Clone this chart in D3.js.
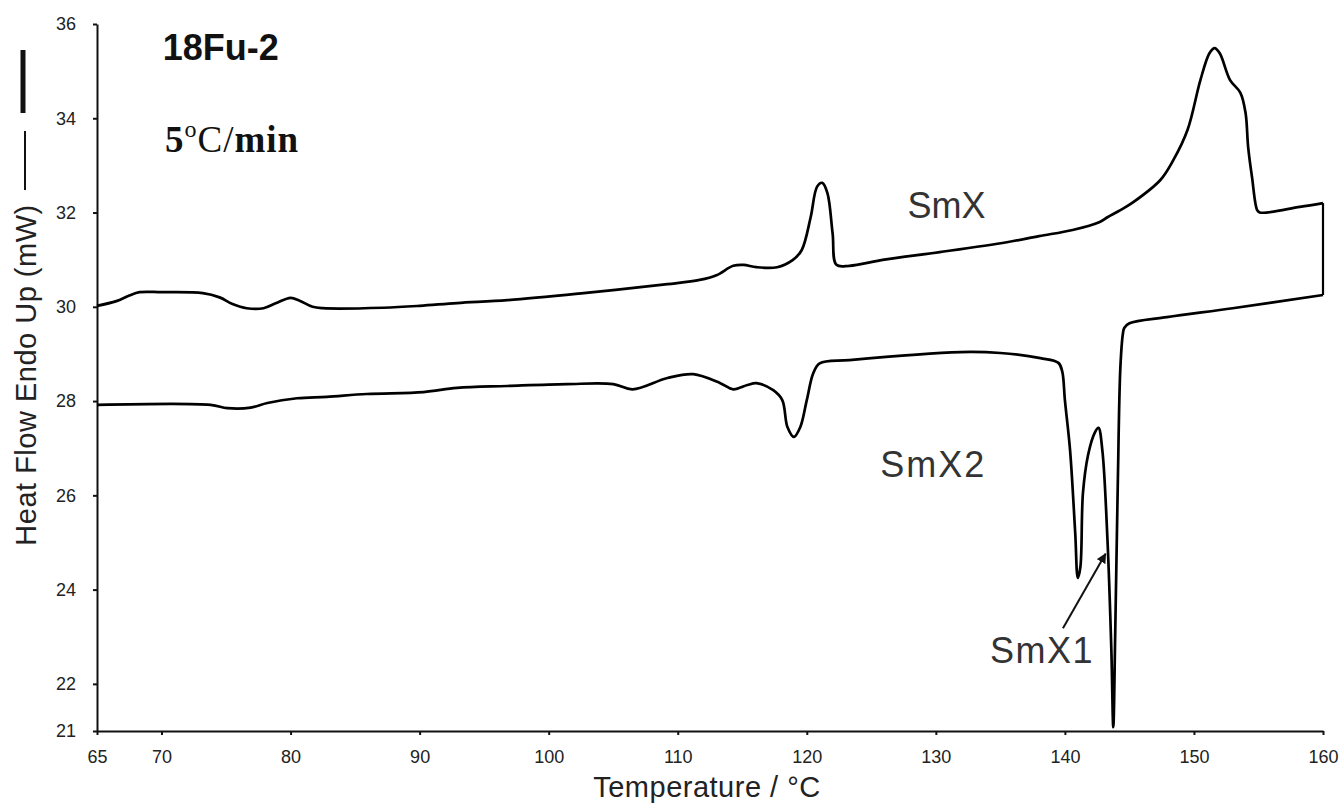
<!DOCTYPE html>
<html>
<head>
<meta charset="utf-8">
<script src="https://cdnjs.cloudflare.com/ajax/libs/d3/7.8.5/d3.min.js"></script>
<style>
    body { margin: 0; background: #fff; }
    svg text { font-family: "Liberation Sans", Arial, sans-serif; }
</style>
</head>
<body>
<div id="dsc_chart"></div>
<script>
// heating run (65 -> 160 C)
var heatT = [65.0, 66.5, 67.5, 68.3, 70.0, 73.2, 74.5, 75.5, 76.6, 77.9, 78.9, 80.0, 80.7, 81.7, 82.5,
    87.2, 90.0, 92.9, 96.8, 102.7, 109.2, 111.7, 113.0, 114.3, 115.1, 116.1, 117.7, 118.9, 119.6,
    120.3, 120.8, 121.2, 121.6, 122.0, 122.3, 123.3, 126.0, 130.3, 135.5, 138.0, 140.6, 142.7, 143.3,
    144.3, 145.3, 147.4, 148.4, 149.5, 150.5, 151.2, 151.6, 152.0, 152.8, 153.6, 154.0, 154.2, 154.5,
    154.9, 155.1, 158.2, 160.0];
var heatY = [30.02, 30.12, 30.24, 30.31, 30.31, 30.29, 30.20, 30.06, 29.97, 29.97, 30.08, 30.19, 30.13, 30.00, 29.97,
    29.98, 30.02, 30.08, 30.14, 30.29, 30.48, 30.57, 30.67, 30.87, 30.89, 30.84, 30.84, 30.99, 31.20,
    31.90, 32.55, 32.63, 32.41, 31.56, 30.89, 30.87, 31.00, 31.16, 31.37, 31.50, 31.63, 31.80, 31.90,
    32.05, 32.22, 32.69, 33.11, 33.75, 34.81, 35.38, 35.49, 35.38, 34.81, 34.54, 34.11, 33.39, 32.75,
    32.05, 32.00, 32.12, 32.20];

// cooling run (160 -> 65 C)
var coolT = [160.0, 153.0, 147.9, 145.0, 144.6, 144.5, 144.3, 144.1, 143.9, 143.75, 143.6, 143.3, 142.9,
    142.6, 142.3, 141.8, 141.4, 141.2, 141.0, 140.8, 140.4, 140.0, 139.8, 139.5, 138.1, 135.0, 131.9,
    123.3, 121.0, 120.5, 120.0, 119.5, 119.0, 118.5, 118.1, 117.4, 116.1, 115.4, 114.3, 113.3, 111.2,
    109.2, 106.5, 105.0, 101.4, 96.8, 92.9, 90.3, 85.9, 82.8, 80.5, 78.2, 76.9, 75.1, 73.8, 65.0];
var coolY = [30.25, 29.97, 29.78, 29.65, 29.55, 29.44, 28.72, 26.26, 23.08, 21.08, 22.72, 25.05, 26.96,
    27.43, 27.32, 26.86, 26.05, 24.48, 24.25, 25.20, 26.96, 28.02, 28.62, 28.81, 28.91, 29.02, 29.04,
    28.87, 28.80, 28.59, 28.02, 27.45, 27.24, 27.45, 28.02, 28.23, 28.38, 28.34, 28.25, 28.38, 28.57,
    28.49, 28.25, 28.36, 28.36, 28.32, 28.28, 28.19, 28.15, 28.09, 28.06, 27.96, 27.86, 27.85, 27.92, 27.92];

var xTicks = [65, 70, 80, 90, 100, 110, 120, 130, 140, 150, 160];
var yTicks = [21, 22, 24, 26, 28, 30, 32, 34, 36];

(function () {

    var width = 1341,
        height = 806;

    var x = d3.scaleLinear()
        .domain([65, 160])
        .range([97, 1323]);

    var y = d3.scaleLinear()
        .domain([21, 36])
        .range([731, 24]);

    var svg = d3.select("#dsc_chart").append("svg")
        .attr("width", width)
        .attr("height", height);

    /* axes */
    var xAxis = svg.append("g")
        .attr("transform", "translate(0," + y(21) + ")")
        .call(d3.axisBottom(x).tickValues(xTicks).tickSize(4).tickSizeOuter(0).tickPadding(15));

    var yAxis = svg.append("g")
        .attr("transform", "translate(" + x(65) + ",0)")
        .call(d3.axisLeft(y).tickValues(yTicks).tickSize(4).tickSizeOuter(0).tickPadding(17));

    [xAxis, yAxis].forEach(function (g) {
        g.select(".domain").attr("stroke", "#111").attr("stroke-width", 2);
        g.selectAll(".tick line").attr("stroke", "#111").attr("stroke-width", 2);
        g.selectAll(".tick text")
            .attr("fill", "#222")
            .style("font-size", "18px");
    });

    /* the thermogram: heating, isothermal jump at 160 C, then cooling */
    var heat = heatT.map(function (t, i) { return [t, heatY[i]]; });
    var cool = coolT.map(function (t, i) { return [t, coolY[i]]; });

    var line = d3.line()
        .curve(d3.curveCatmullRom.alpha(0.5))
        .x(function (d) { return x(d[0]); })
        .y(function (d) { return y(d[1]); });

    var joint = d3.line()
        .x(function (d) { return x(d[0]); })
        .y(function (d) { return y(d[1]); });

    svg.selectAll(".trace")
        .data([heat, cool])
        .enter().append("path")
        .attr("class", "trace")
        .attr("d", line)
        .attr("fill", "none")
        .attr("stroke", "#000")
        .attr("stroke-width", 2.7)
        .attr("stroke-linejoin", "round");

    svg.append("path")
        .datum([heat[heat.length - 1], cool[0]])
        .attr("d", joint)
        .attr("fill", "none")
        .attr("stroke", "#000")
        .attr("stroke-width", 2.2);

    /* axis titles */
    svg.append("text")
        .attr("x", 707)
        .attr("y", 797)
        .attr("text-anchor", "middle")
        .attr("fill", "#222")
        .style("font-size", "29px")
        .style("letter-spacing", "0.5px")
        .text("Temperature / \u00B0C");

    svg.append("text")
        .attr("transform", "translate(36,375) rotate(-90)")
        .attr("text-anchor", "middle")
        .attr("fill", "#222")
        .style("font-size", "29px")
        .style("letter-spacing", "0.5px")
        .text("Heat Flow Endo Up (mW)");

    // line sample next to the y title
    svg.append("line")
        .attr("x1", 25).attr("x2", 25).attr("y1", 131).attr("y2", 190)
        .attr("stroke", "#111").attr("stroke-width", 2);
    svg.append("line")
        .attr("x1", 23).attr("x2", 23).attr("y1", 50).attr("y2", 113)
        .attr("stroke", "#111").attr("stroke-width", 5);

    /* sample and rate */
    svg.append("text")
        .attr("x", x(70.1))
        .attr("y", y(35.24))
        .attr("fill", "#111")
        .style("font-size", "36px")
        .style("font-weight", "bold")
        .text("18Fu-2");

    var rate = svg.append("text")
        .attr("x", x(70.27))
        .attr("y", y(33.28))
        .attr("fill", "#111")
        .style("font-family", "'Liberation Serif', 'Times New Roman', serif")
        .style("font-size", "37px")
        .style("letter-spacing", "1px");
    rate.append("tspan").style("font-weight", "bold").text("5");
    rate.append("tspan").attr("dy", -15).style("font-size", "24px").text("o");
    rate.append("tspan").attr("dy", 15).text("C/");
    rate.append("tspan").style("font-weight", "bold").text("min");

    /* phase labels */
    var labels = [
        {t: 127.8, v: 31.88, s: "SmX", ls: 0},
        {t: 125.7, v: 26.39, s: "SmX2", ls: 2},
        {t: 134.2, v: 22.44, s: "SmX1", ls: 1.5}
    ];
    svg.selectAll(".phase")
        .data(labels)
        .enter().append("text")
        .attr("class", "phase")
        .attr("x", function (d) { return x(d.t); })
        .attr("y", function (d) { return y(d.v); })
        .attr("fill", "#333")
        .style("font-size", "36px")
        .style("letter-spacing", function (d) { return d.ls + "px"; })
        .text(function (d) { return d.s; });

    // arrow from SmX1 label to the second exotherm
    svg.append("defs").append("marker")
        .attr("id", "head")
        .attr("viewBox", "0 0 10 10")
        .attr("refX", 9).attr("refY", 5)
        .attr("markerWidth", 5).attr("markerHeight", 5)
        .attr("markerUnits", "strokeWidth")
        .attr("orient", "auto")
        .append("path")
        .attr("d", "M0,0L10,5L0,10z")
        .attr("fill", "#111");

    svg.append("line")
        .attr("x1", x(139.85)).attr("y1", y(23.18))
        .attr("x2", x(143.15)).attr("y2", y(24.76))
        .attr("stroke", "#111")
        .attr("stroke-width", 2)
        .attr("marker-end", "url(#head)");
})();
</script>
</body>
</html>
